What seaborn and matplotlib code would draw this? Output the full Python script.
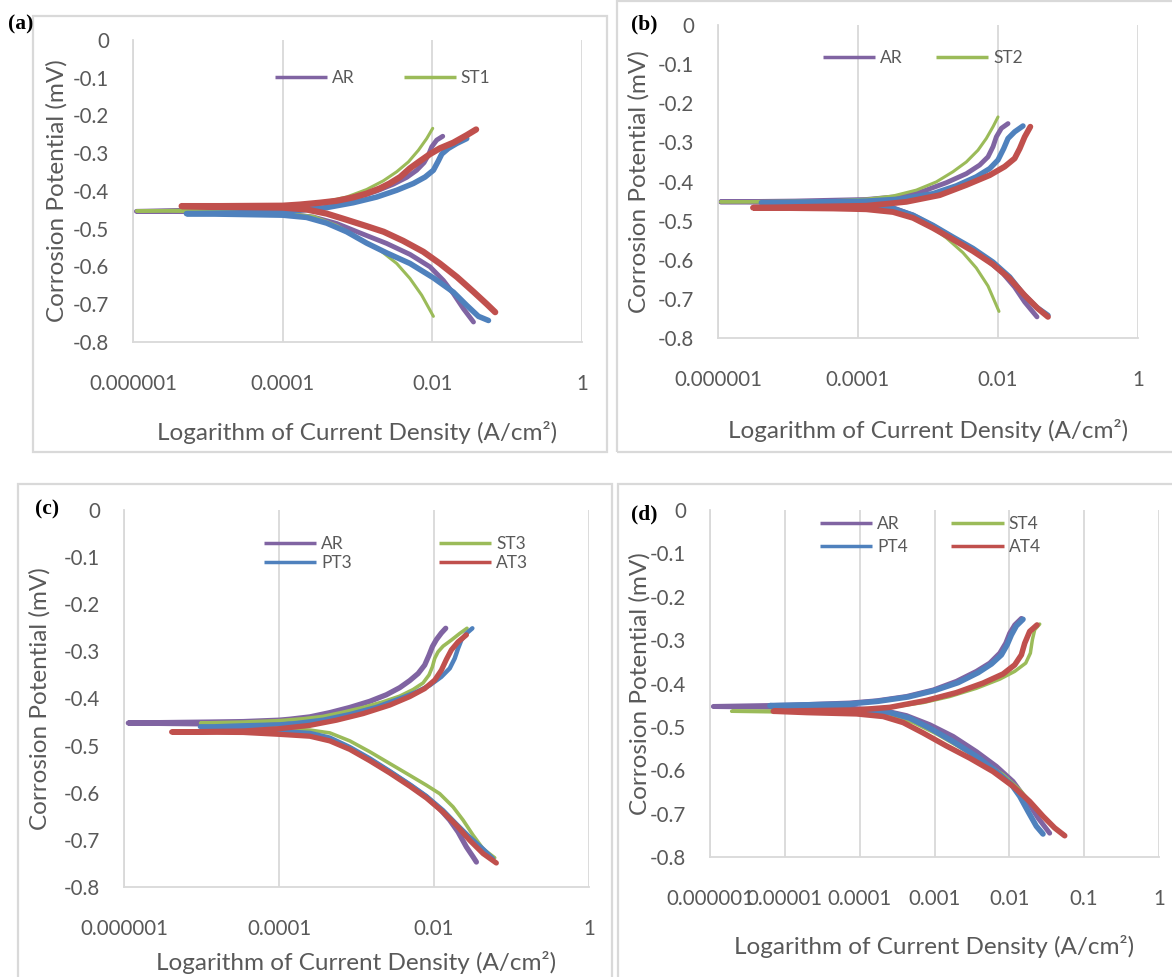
import numpy as np
import pandas as pd
import matplotlib
matplotlib.use("Agg")
import matplotlib.pyplot as plt
import seaborn as sns
from matplotlib.patches import Rectangle
from matplotlib.ticker import NullLocator

# ---------------------------------------------------------------- data
yticks = [0, -0.1, -0.2, -0.3, -0.4, -0.5, -0.6, -0.7, -0.8]
ytick_labels = ["0", "-0.1", "-0.2", "-0.3", "-0.4", "-0.5", "-0.6", "-0.7", "-0.8"]
xticks_abc = [1e-6, 1e-4, 1e-2, 1]
xtick_labels_abc = ["0.000001", "0.0001", "0.01", "1"]
xticks_d = [1e-6, 1e-5, 1e-4, 1e-3, 1e-2, 1e-1, 1]
xtick_labels_d = ["0.000001", "0.00001", "0.0001", "0.001", "0.01", "0.1", "1"]

# each curve: log10(current density, A/cm2) and potential (V),
# traced anodic end -> Ecorr tip -> cathodic end
# ---- panel (a)
a_AR_logi = [-1.861, -1.941, -2.008, -2.053, -2.111, -2.209, -2.343, -2.521, -2.744, -3.012, -3.279,
             -3.591, -4.002, -4.840, -5.955,
             -4.840, -4.002, -3.591, -3.279, -2.967, -2.610, -2.298, -2.030, -1.852, -1.718, -1.584, -1.450]
a_AR_e = [-0.255, -0.265, -0.283, -0.305, -0.325, -0.345, -0.364, -0.382, -0.400, -0.416, -0.427,
          -0.435, -0.442, -0.449, -0.454,
          -0.455, -0.460, -0.469, -0.486, -0.511, -0.539, -0.568, -0.601, -0.637, -0.672, -0.712, -0.747]
a_ST1_logi = [-1.995, -2.075, -2.186, -2.320, -2.476, -2.655, -2.878, -3.145, -3.502, -4.002, -4.840, -5.955,
              -4.840, -4.002, -3.591, -3.279, -2.967, -2.699, -2.476, -2.298, -2.142, -1.986]
a_ST1_e = [-0.234, -0.261, -0.292, -0.323, -0.349, -0.373, -0.396, -0.416, -0.431, -0.442, -0.449, -0.453,
           -0.455, -0.458, -0.467, -0.491, -0.526, -0.557, -0.592, -0.632, -0.676, -0.732]
a_PT1_logi = [-1.540, -1.674, -1.785, -1.874, -1.919, -1.986, -2.097, -2.253, -2.476, -2.744, -3.056,
              -3.413, -3.770, -4.002, -4.617, -5.286,
              -4.617, -4.002, -3.681, -3.413, -3.145, -2.878, -2.610, -2.298, -1.986, -1.718, -1.540,
              -1.384, -1.250]
a_PT1_e = [-0.261, -0.274, -0.287, -0.302, -0.320, -0.345, -0.363, -0.380, -0.398, -0.416, -0.431,
           -0.444, -0.451, -0.454, -0.458, -0.460,
           -0.462, -0.464, -0.470, -0.485, -0.508, -0.538, -0.564, -0.592, -0.630, -0.668, -0.703,
           -0.732, -0.743]
a_AT1_logi = [-1.415, -1.540, -1.720, -1.900, -2.030, -2.160, -2.300, -2.430, -2.570, -2.700, -2.880,
              -3.060, -3.280, -3.500, -3.770, -4.000, -4.840, -5.350,
              -4.840, -4.000, -3.680, -3.410, -3.150, -2.880, -2.650, -2.390, -2.120, -1.900, -1.670,
              -1.450, -1.270, -1.160]
a_AT1_e = [-0.237, -0.252, -0.272, -0.287, -0.302, -0.320, -0.340, -0.363, -0.380, -0.393, -0.407,
           -0.417, -0.426, -0.431, -0.436, -0.439, -0.440, -0.440,
           -0.442, -0.444, -0.449, -0.460, -0.476, -0.493, -0.508, -0.532, -0.561, -0.592, -0.628,
           -0.667, -0.700, -0.721]

# ---- panel (b)
b_AR_logi = [-1.857, -1.952, -2.024, -2.071, -2.143, -2.262, -2.452, -2.738, -3.071, -3.452, -3.881,
             -4.900, -5.967,
             -4.900, -3.881, -3.500, -3.214, -2.929, -2.643, -2.357, -2.119, -1.929, -1.762, -1.619, -1.443]
b_AR_e = [-0.252, -0.264, -0.286, -0.311, -0.337, -0.358, -0.380, -0.403, -0.425, -0.439, -0.446,
          -0.450, -0.452,
          -0.454, -0.461, -0.467, -0.486, -0.513, -0.544, -0.576, -0.606, -0.635, -0.670, -0.708, -0.746]
b_ST2_logi = [-2.000, -2.071, -2.167, -2.286, -2.452, -2.643, -2.881, -3.167, -3.500, -3.881, -4.357, -5.967,
              -4.357, -3.881, -3.548, -3.262, -2.976, -2.738, -2.500, -2.310, -2.143, -1.986]
b_ST2_e = [-0.235, -0.260, -0.290, -0.320, -0.350, -0.375, -0.401, -0.422, -0.437, -0.445, -0.449, -0.452,
           -0.454, -0.456, -0.465, -0.484, -0.513, -0.544, -0.582, -0.621, -0.667, -0.732]
b_PT2_logi = [-1.643, -1.762, -1.857, -1.919, -2.000, -2.119, -2.310, -2.595, -2.929, -3.405, -3.881, -5.381,
              -4.357, -3.881, -3.500, -3.214, -2.929, -2.643, -2.357, -2.071, -1.833, -1.643, -1.452, -1.286]
b_PT2_e = [-0.258, -0.273, -0.290, -0.316, -0.345, -0.367, -0.388, -0.411, -0.431, -0.445, -0.450, -0.454,
           -0.458, -0.462, -0.469, -0.486, -0.512, -0.542, -0.571, -0.606, -0.644, -0.687, -0.721, -0.742]
b_AT2_logi = [-1.538, -1.619, -1.690, -1.762, -1.905, -2.119, -2.452, -2.833, -3.310, -3.881, -5.500,
              -4.357, -3.881, -3.500, -3.214, -2.929, -2.643, -2.357, -2.071, -1.833, -1.619, -1.429, -1.286]
b_AT2_e = [-0.260, -0.286, -0.316, -0.341, -0.362, -0.384, -0.409, -0.435, -0.452, -0.462, -0.467,
           -0.469, -0.471, -0.478, -0.493, -0.519, -0.548, -0.578, -0.612, -0.648, -0.691, -0.725, -0.746]

# ---- panel (c)
c_AR_logi = [-1.849, -1.905, -1.969, -2.021, -2.064, -2.120, -2.205, -2.313, -2.442, -2.614, -2.829,
             -3.086, -3.344, -3.602, -3.860, -3.997, -4.460, -4.891, -5.944,
             -4.891, -4.376, -3.997, -3.602, -3.344, -3.086, -2.829, -2.571, -2.313, -2.098, -1.926,
             -1.797, -1.690, -1.582, -1.496, -1.453]
c_AR_e = [-0.251, -0.261, -0.275, -0.290, -0.308, -0.329, -0.347, -0.362, -0.377, -0.392, -0.406,
          -0.419, -0.430, -0.439, -0.444, -0.446, -0.449, -0.450, -0.452,
          -0.454, -0.464, -0.471, -0.476, -0.487, -0.506, -0.530, -0.556, -0.584, -0.609, -0.634,
          -0.658, -0.683, -0.715, -0.736, -0.747]
c_ST3_logi = [-1.574, -1.668, -1.776, -1.883, -1.948, -1.991, -2.021, -2.064, -2.141, -2.270, -2.442,
              -2.657, -2.914, -3.172, -3.430, -3.688, -3.997, -4.462, -5.012,
              -4.462, -3.997, -3.602, -3.344, -3.086, -2.829, -2.571, -2.313, -2.098, -1.926, -1.754,
              -1.625, -1.496, -1.367, -1.217]
c_ST3_e = [-0.251, -0.262, -0.276, -0.289, -0.301, -0.315, -0.333, -0.350, -0.367, -0.381, -0.395,
           -0.407, -0.419, -0.429, -0.438, -0.443, -0.447, -0.450, -0.452,
           -0.454, -0.464, -0.467, -0.473, -0.490, -0.513, -0.538, -0.563, -0.584, -0.602, -0.630,
           -0.658, -0.690, -0.719, -0.738]
c_PT3_logi = [-1.505, -1.582, -1.647, -1.690, -1.733, -1.797, -1.905, -2.055, -2.227, -2.442, -2.743,
              -3.086, -3.430, -3.774, -3.997, -4.462, -5.020,
              -4.462, -3.997, -3.602, -3.344, -3.086, -2.829, -2.571, -2.313, -2.098, -1.883, -1.711,
              -1.539, -1.367, -1.238]
c_PT3_e = [-0.251, -0.262, -0.276, -0.294, -0.315, -0.336, -0.354, -0.372, -0.386, -0.400, -0.418,
           -0.433, -0.445, -0.452, -0.455, -0.457, -0.460,
           -0.463, -0.469, -0.473, -0.483, -0.503, -0.527, -0.554, -0.582, -0.607, -0.637, -0.666,
           -0.694, -0.719, -0.740]
c_AT3_logi = [-1.582, -1.690, -1.776, -1.840, -1.905, -1.991, -2.120, -2.313, -2.571, -2.914, -3.258,
              -3.602, -3.997, -4.462, -5.385,
              -4.462, -3.997, -3.602, -3.344, -3.086, -2.829, -2.571, -2.313, -2.098, -1.883, -1.711,
              -1.539, -1.367, -1.196]
c_AT3_e = [-0.265, -0.280, -0.297, -0.317, -0.340, -0.361, -0.379, -0.396, -0.414, -0.432, -0.446,
           -0.457, -0.464, -0.469, -0.471,
           -0.472, -0.476, -0.480, -0.490, -0.508, -0.532, -0.558, -0.586, -0.611, -0.641, -0.669,
           -0.701, -0.729, -0.749]

# ---- panel (d)
d_AR_logi = [-1.839, -1.928, -1.995, -2.048, -2.128, -2.262, -2.440, -2.707, -3.018, -3.374, -3.775,
             -4.131, -4.932, -5.955,
             -4.932, -4.131, -3.686, -3.374, -3.063, -2.751, -2.440, -2.173, -1.950, -1.772, -1.616, -1.461]
d_AR_e = [-0.250, -0.265, -0.284, -0.307, -0.330, -0.353, -0.372, -0.395, -0.415, -0.430, -0.440,
          -0.445, -0.450, -0.453,
          -0.455, -0.457, -0.462, -0.474, -0.495, -0.522, -0.557, -0.591, -0.626, -0.668, -0.710, -0.745]
d_ST4_logi = [-1.594, -1.661, -1.692, -1.719, -1.781, -1.928, -2.128, -2.440, -2.796, -3.152, -3.597,
              -4.042, -4.932, -5.711,
              -4.932, -4.042, -3.597, -3.285, -2.974, -2.662, -2.351, -2.084, -1.861, -1.683, -1.505,
              -1.372, -1.260]
d_ST4_e = [-0.263, -0.276, -0.299, -0.330, -0.353, -0.372, -0.390, -0.411, -0.430, -0.444, -0.455,
           -0.459, -0.463, -0.464,
           -0.466, -0.468, -0.474, -0.490, -0.516, -0.547, -0.580, -0.610, -0.645, -0.680, -0.714,
           -0.737, -0.749]
d_PT4_logi = [-1.817, -1.906, -1.973, -2.030, -2.106, -2.239, -2.417, -2.684, -2.996, -3.352, -3.753,
              -4.131, -5.199,
              -4.487, -3.953, -3.597, -3.330, -3.063, -2.751, -2.440, -2.173, -1.972, -1.861, -1.750,
              -1.639, -1.550]
d_PT4_e = [-0.252, -0.267, -0.288, -0.311, -0.334, -0.355, -0.375, -0.398, -0.416, -0.431, -0.441,
           -0.447, -0.451,
           -0.457, -0.461, -0.467, -0.480, -0.503, -0.534, -0.568, -0.603, -0.633, -0.660, -0.695,
           -0.729, -0.747]
d_AT4_logi = [-1.630, -1.728, -1.794, -1.839, -1.928, -2.084, -2.351, -2.707, -3.107, -3.597, -4.042,
              -5.154,
              -4.709, -4.042, -3.686, -3.419, -3.152, -2.840, -2.529, -2.217, -1.950, -1.728, -1.550,
              -1.394, -1.260]
d_AT4_e = [-0.265, -0.280, -0.307, -0.334, -0.357, -0.378, -0.399, -0.421, -0.439, -0.455, -0.461,
           -0.464,
           -0.467, -0.470, -0.476, -0.490, -0.514, -0.544, -0.572, -0.603, -0.637, -0.672, -0.706,
           -0.733, -0.751]

# ---------------------------------------------------------------- style
sns.set_style("white")
plt.rcParams["font.family"] = ["Lato", "DejaVu Sans"]
plt.rcParams["axes.unicode_minus"] = False

W, H = 1172, 977
COL = {"AR": "#8064A2", "ST": "#9BBB59", "PT": "#4F81BD", "AT": "#C0504D"}
GRID = "#d9d9d9"
TXT = "#595959"

fig = plt.figure(figsize=(W / 100, H / 100), dpi=100)


def frac_rect(l, r, t, b):
    return [l / W, 1 - b / H, (r - l) / W, (b - t) / H]


def box(x0, y0, x1, y1):
    fig.add_artist(Rectangle((x0 / W, 1 - y1 / H), (x1 - x0) / W, (y1 - y0) / H,
                             transform=fig.transFigure, fill=False,
                             edgecolor=GRID, lw=1.6))


box(33, 16, 607, 452)
box(617, 1, 1180, 452)
box(18, 484, 612, 985)
box(618, 484, 1180, 985)


def panel(px, series, widths, xt, xtl, legend_names, leg, ylab_x, xlab_y, letter, letter_xy):
    l, r, t, b = px
    ax = fig.add_axes(frac_rect(l, r, t, b))
    handles = {}
    for (name, kind, logi, e), lw in zip(series, widths):
        df = pd.DataFrame({"i": np.power(10.0, logi), "E": e})
        sns.lineplot(data=df, x="i", y="E", sort=False, estimator=None,
                     color=COL[kind], lw=lw, ax=ax, legend=False)
        ln = ax.lines[-1]
        ln.set_solid_capstyle("round")
        ln.set_solid_joinstyle("round")
        handles[name] = ln
    ax.set_xscale("log")
    ax.set_xlim(1e-6, 1)
    ax.set_ylim(-0.8, 0)
    ax.set_xticks(xt)
    ax.set_xticklabels(xtl)
    ax.xaxis.set_minor_locator(NullLocator())
    ax.set_yticks(yticks)
    ax.set_yticklabels(ytick_labels)
    ax.tick_params(axis="both", length=0, labelsize=14.8, labelcolor=TXT)
    ax.tick_params(axis="x", pad=23)
    ax.tick_params(axis="y", pad=17)
    ax.xaxis.grid(True, color=GRID, lw=1.3)
    ax.yaxis.grid(False)
    for s in ["top", "right"]:
        ax.spines[s].set_visible(False)
    for s in ["left", "bottom"]:
        ax.spines[s].set_color(GRID)
        ax.spines[s].set_linewidth(1.3)
    ax.set_axisbelow(True)
    ax.set_xlabel("Logarithm of Current Density (A/cm²)", fontsize=17.5, color=TXT,
                  ha="center", va="center")
    ax.set_ylabel("Corrosion Potential (mV)", fontsize=17.5, color=TXT,
                  ha="center", va="center", rotation=90)
    ax.yaxis.set_label_coords((ylab_x - l) / (r - l), 0.5)
    ax.xaxis.set_label_coords(0.5, -(xlab_y - b) / (b - t))
    lx, ly, colsp, lsp = leg
    lg = ax.legend([handles[n] for n in legend_names], legend_names, ncol=2,
                   frameon=False, fontsize=12.5, handlelength=3.0, handletextpad=0.3,
                   columnspacing=colsp, labelspacing=lsp, borderpad=0, borderaxespad=0,
                   loc="center left", bbox_to_anchor=(lx / W, 1 - ly / H),
                   bbox_transform=fig.transFigure)
    for t_ in lg.get_texts():
        t_.set_color(TXT)
    for hl in lg.get_lines():
        hl.set_linewidth(2.5)
        hl.set_solid_capstyle("butt")
    fig.text(letter_xy[0] / W, 1 - letter_xy[1] / H, letter, family="Liberation Serif",
             fontweight="bold", fontsize=15.5, ha="center", va="center", color="black")
    return ax


# legend handles are listed column by column (ncol=2) so rows read AR | ST, PT | AT
panel((133, 582, 40, 342),
      [("AR", "AR", a_AR_logi, a_AR_e), ("ST1", "ST", a_ST1_logi, a_ST1_e),
       ("PT1", "PT", a_PT1_logi, a_PT1_e), ("AT1", "AT", a_AT1_logi, a_AT1_e)],
      [3.5, 2.2, 4.0, 4.5], xticks_abc, xtick_labels_abc, ["AR", "ST1"],
      (275, 78, 2.8, 0.2), 57, 432, "(a)", (21, 24))

panel((718, 1138, 25, 338),
      [("AR", "AR", b_AR_logi, b_AR_e), ("ST2", "ST", b_ST2_logi, b_ST2_e),
       ("PT2", "PT", b_PT2_logi, b_PT2_e), ("AT2", "AT", b_AT2_logi, b_AT2_e)],
      [3.5, 2.2, 3.9, 4.2], xticks_abc, xtick_labels_abc, ["AR", "ST2"],
      (823, 58, 1.9, 0.2), 639, 430, "(b)", (644, 24))

panel((124, 589, 510, 887),
      [("AR", "AR", c_AR_logi, c_AR_e), ("ST3", "ST", c_ST3_logi, c_ST3_e),
       ("PT3", "PT", c_PT3_logi, c_PT3_e), ("AT3", "AT", c_AT3_logi, c_AT3_e)],
      [3.8, 2.6, 3.2, 3.8], xticks_abc, xtick_labels_abc, ["AR", "PT3", "ST3", "AT3"],
      (264, 553.5, 5.0, 0.2), 40, 962, "(c)", (47, 509))

panel((710, 1159, 510, 857),
      [("AR", "AR", d_AR_logi, d_AR_e), ("ST4", "ST", d_ST4_logi, d_ST4_e),
       ("PT4", "PT", d_PT4_logi, d_PT4_e), ("AT4", "AT", d_AT4_logi, d_AT4_e)],
      [3.6, 2.5, 4.0, 4.0], xticks_d, xtick_labels_d, ["AR", "PT4", "ST4", "AT4"],
      (820, 535.5, 2.5, 0.45), 640, 946, "(d)", (644, 514))

fig.savefig("out.png", dpi=100)
